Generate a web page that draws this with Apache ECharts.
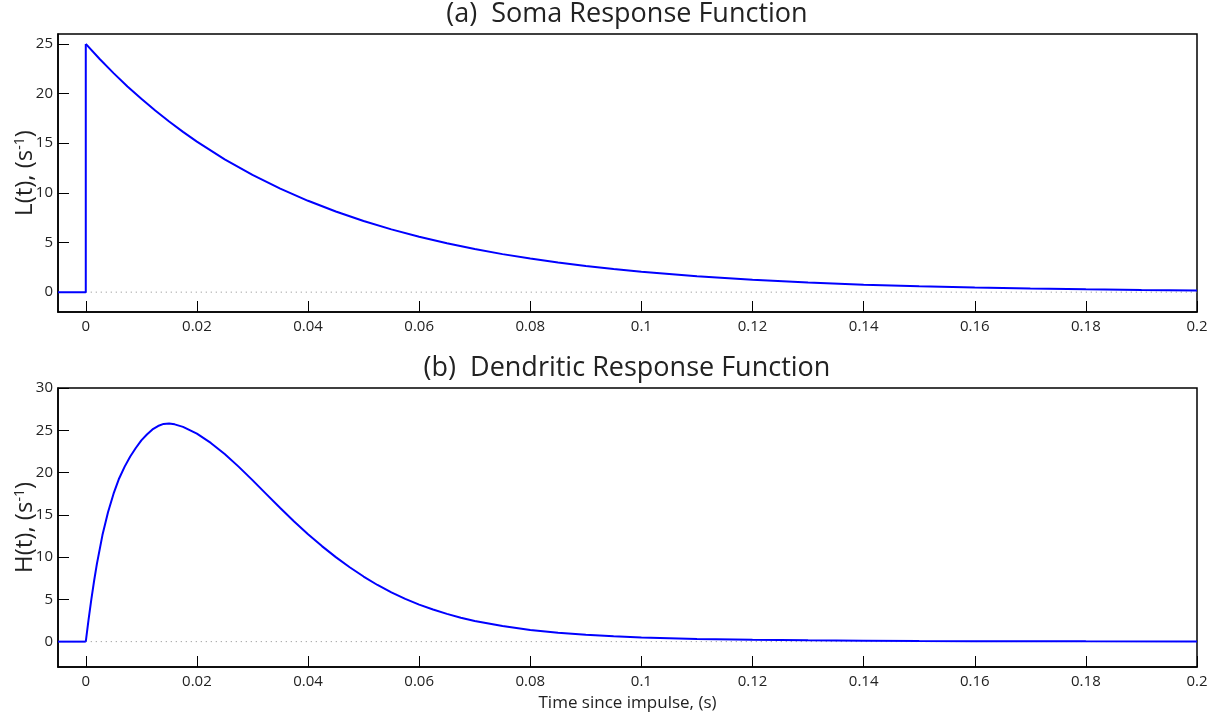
<!DOCTYPE html>
<html>
<head>
<meta charset="utf-8">
<script src="https://cdn.jsdelivr.net/npm/echarts@6/dist/echarts.min.js"></script>
<style>
html,body{margin:0;padding:0;background:#fff;}
#c{width:1231px;height:713px;}
</style>
</head>
<body>
<div id="c"></div>
<script>
// ---- data ----
const xTicks = [0, 0.02, 0.04, 0.06, 0.08, 0.1, 0.12, 0.14, 0.16, 0.18, 0.2];
const yTicksTop = [0, 5, 10, 15, 20, 25];
const yTicksBottom = [0, 5, 10, 15, 20, 25, 30];

// soma response: before impulse and jump
const somaPreT = [-0.005, 0, 0];
const somaPreV = [0, 0, 25];
// soma response decay
const somaT = [0, 0.0025, 0.005, 0.0075, 0.01, 0.0125, 0.015, 0.0175, 0.02, 0.025, 0.03, 0.035, 0.04, 0.045, 0.05, 0.055, 0.06, 0.065, 0.07, 0.075, 0.08, 0.085, 0.09, 0.095, 0.1, 0.11, 0.12, 0.13, 0.14, 0.15, 0.16, 0.17, 0.18, 0.19, 0.2];
const somaV = [25, 23.48, 22.06, 20.72, 19.47, 18.29, 17.18, 16.14, 15.16, 13.38, 11.81, 10.42, 9.20, 8.12, 7.16, 6.32, 5.58, 4.92, 4.34, 3.83, 3.38, 2.99, 2.64, 2.33, 2.05, 1.60, 1.24, 0.97, 0.75, 0.59, 0.46, 0.36, 0.28, 0.22, 0.17];

// dendritic response
const dendPreT = [-0.005, 0];
const dendPreV = [0, 0];
const dendT = [0, 0.0005, 0.001, 0.0015, 0.002, 0.003, 0.004, 0.005, 0.006, 0.007, 0.008, 0.009, 0.01, 0.011, 0.012, 0.013, 0.014, 0.015, 0.016, 0.0175, 0.02, 0.0225, 0.025, 0.0275, 0.03, 0.0325, 0.035, 0.0375, 0.04, 0.0425, 0.045, 0.0475, 0.05, 0.0525, 0.055, 0.0575, 0.06, 0.0625, 0.065, 0.0675, 0.07, 0.075, 0.08, 0.085, 0.09, 0.095, 0.1, 0.11, 0.12, 0.13, 0.14, 0.15, 0.16, 0.18, 0.2];
const dendV = [0, 2.6, 5.0, 7.2, 9.2, 12.6, 15.3, 17.5, 19.3, 20.7, 21.9, 22.9, 23.8, 24.5, 25.1, 25.5, 25.75, 25.8, 25.7, 25.4, 24.6, 23.5, 22.2, 20.7, 19.1, 17.45, 15.8, 14.2, 12.7, 11.3, 10.0, 8.8, 7.7, 6.7, 5.82, 5.05, 4.38, 3.8, 3.28, 2.83, 2.45, 1.84, 1.39, 1.06, 0.82, 0.64, 0.5, 0.32, 0.22, 0.15, 0.11, 0.08, 0.06, 0.04, 0.03];

// zero reference line
const zeroT = [0, 0.2];
const zeroV = [0, 0];

const zip = (a, b) => a.map((v, i) => [v, b[i]]);

const FONT = '"Open Sans", "Noto Sans", sans-serif';
const BLUE = '#0000ff';

function xAxisCfg(gi, withName) {
  return {
    type: 'value', gridIndex: gi, min: -0.005, max: 0.2,
    splitLine: {show: false},
    axisLine: {show: true, onZero: false, lineStyle: {color: '#000', width: 1.5}},
    axisTick: {show: true, inside: true, length: 11, customValues: xTicks, lineStyle: {color: '#000', width: 1}},
    axisLabel: {customValues: xTicks, color: '#222', fontFamily: FONT, fontSize: 15, margin: 7},
    name: withName ? 'Time since impulse, (s)' : '',
    nameLocation: 'middle', nameGap: 28, nameMoveOverlap: false,
    nameTextStyle: {color: '#222', fontFamily: FONT, fontSize: 17}
  };
}
function yAxisCfg(gi, min, max, ticks, letter) {
  return {
    type: 'value', gridIndex: gi, min: min, max: max,
    splitLine: {show: false},
    axisLine: {show: true, onZero: false, lineStyle: {color: '#000', width: 1.5}},
    axisTick: {show: true, inside: true, length: 11, customValues: ticks, lineStyle: {color: '#000', width: 1}},
    axisLabel: {customValues: ticks, color: '#222', fontFamily: FONT, fontSize: 15, margin: 5},
    name: '{n|' + letter + '(t), (s}{s|-1}{n|)}',
    nameLocation: 'middle', nameGap: 20, nameRotate: 90, nameMoveOverlap: false,
    nameTextStyle: {
      rich: {
        n: {fontFamily: FONT, fontSize: 24, color: '#222'},
        s: {fontFamily: FONT, fontSize: 14, color: '#222', verticalAlign: 'top', padding: [0, 0, 11, 0]}
      }
    }
  };
}

const chart = echarts.init(document.getElementById('c'));
chart.setOption({
  animation: false,
  backgroundColor: '#fff',
  title: [
    {text: '(a)  Soma Response Function', left: 627, top: 1, textAlign: 'center', padding: 0,
     textStyle: {fontFamily: FONT, fontSize: 27, fontWeight: 'normal', color: '#222'}},
    {text: '(b)  Dendritic Response Function', left: 627, top: 355, textAlign: 'center', padding: 0,
     textStyle: {fontFamily: FONT, fontSize: 27, fontWeight: 'normal', color: '#222'}}
  ],
  grid: [
    {left: 58, right: 34, top: 34, height: 278, show: true, borderColor: '#000', borderWidth: 1.5, backgroundColor: 'transparent', outerBoundsMode: 'none', containLabel: false},
    {left: 58, right: 34, top: 388, height: 279, show: true, borderColor: '#000', borderWidth: 1.5, backgroundColor: 'transparent', outerBoundsMode: 'none', containLabel: false}
  ],
  xAxis: [xAxisCfg(0, false), xAxisCfg(1, true)],
  yAxis: [yAxisCfg(0, -2, 26, yTicksTop, 'L'), yAxisCfg(1, -3, 30, yTicksBottom, 'H')],
  series: [
    {type: 'line', xAxisIndex: 0, yAxisIndex: 0, data: zip(zeroT, zeroV), showSymbol: false, silent: true,
     lineStyle: {color: '#888', width: 1, type: [1, 4]}, z: 1},
    {type: 'line', xAxisIndex: 0, yAxisIndex: 0, data: zip(somaPreT, somaPreV), showSymbol: false,
     lineStyle: {color: BLUE, width: 2}, z: 3},
    {type: 'line', xAxisIndex: 0, yAxisIndex: 0, data: zip(somaT, somaV), showSymbol: false,
     lineStyle: {color: BLUE, width: 2}, z: 3},
    {type: 'line', xAxisIndex: 1, yAxisIndex: 1, data: zip(zeroT, zeroV), showSymbol: false, silent: true,
     lineStyle: {color: '#888', width: 1, type: [1, 4]}, z: 1},
    {type: 'line', xAxisIndex: 1, yAxisIndex: 1, data: zip(dendPreT, dendPreV), showSymbol: false,
     lineStyle: {color: BLUE, width: 2}, z: 3},
    {type: 'line', xAxisIndex: 1, yAxisIndex: 1, data: zip(dendT, dendV), showSymbol: false,
     lineStyle: {color: BLUE, width: 2}, z: 3}
  ]
});
</script>
</body>
</html>
